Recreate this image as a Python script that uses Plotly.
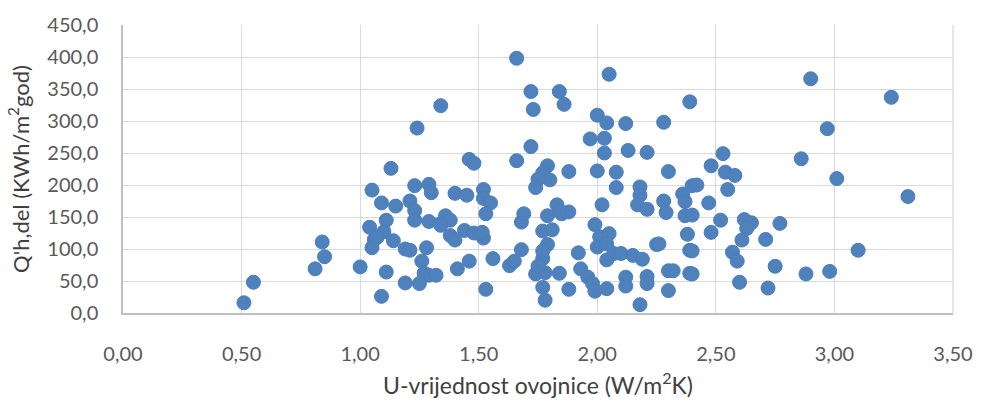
import plotly.graph_objects as go

# U-vrijednost ovojnice (W/m2K)
u_vals = [0.51, 0.55, 0.81, 0.84, 0.85, 1.00, 1.09, 1.13, 1.24, 1.34,
          1.05, 1.09, 1.15, 1.21, 1.23, 1.29, 1.30, 1.23, 1.23, 1.04,
          1.11, 1.10, 1.06, 1.14, 1.05, 1.07, 1.19, 1.21, 1.28, 1.29,
          1.34, 1.36, 1.38, 1.38, 1.40, 1.44, 1.48, 1.46, 1.48, 1.40,
          1.45, 1.26, 1.27, 1.29, 1.19, 1.25, 1.11, 1.41, 1.46, 1.66,
          1.72, 1.73, 1.84, 1.86, 2.05, 2.00, 2.04, 2.12, 2.28, 2.39,
          1.97, 2.03, 2.03, 2.13, 2.21, 1.72, 1.66, 1.79, 1.77, 1.80,
          1.75, 1.74, 1.88, 2.00, 2.08, 2.08, 2.30, 2.18, 2.18, 2.17,
          2.21, 2.28, 2.29, 2.36, 2.37, 2.37, 2.40, 2.02, 1.52, 1.52,
          1.55, 1.53, 1.34, 1.68, 1.69, 1.79, 1.83, 1.85, 1.88, 1.99,
          1.52, 1.515, 1.77, 1.81, 1.79, 1.68, 2.01, 2.05, 2.00, 2.04,
          2.25, 2.26, 2.38, 2.39, 1.32, 1.56, 1.53, 1.63, 1.65, 1.77,
          1.77, 1.74, 1.78, 1.84, 1.77, 1.78, 1.88, 1.92, 1.93, 1.96,
          1.98, 1.99, 2.04, 2.04, 2.07, 2.10, 2.15, 2.19, 2.12, 2.12,
          2.21, 2.21, 2.18, 2.30, 2.32, 2.30, 2.39, 1.75, 2.90, 3.24,
          2.97, 2.86, 2.53, 2.48, 2.54, 2.58, 3.01, 2.42, 2.55, 3.31,
          2.47, 2.40, 2.52, 2.62, 2.65, 2.63, 2.77, 2.48, 2.61, 2.71,
          2.40, 2.57, 2.59, 2.75, 3.10, 2.40, 2.60, 2.72, 2.88, 2.98,
          1.84, 1.07]

# Q'h,del (kWh/m2god)
q_vals = [16, 48, 69, 111, 88, 72, 26, 226, 289, 324,
          192, 172, 167, 175, 199, 201, 188, 160, 145, 134,
          145, 127, 115, 113, 102, 118, 100, 98, 102, 143,
          140, 152, 145, 121, 114, 129, 125, 240, 234, 187,
          184, 81, 62, 59, 47, 46, 64, 69, 81, 398,
          346, 318, 346, 326, 373, 309, 297, 296, 298, 330,
          272, 273, 250, 254, 251, 260, 238, 230, 219, 208,
          209, 196, 221, 222, 220, 196, 221, 197, 184, 169,
          162, 175, 157, 186, 174, 152, 199, 169, 193, 179,
          172, 155, 137, 142, 155, 152, 169, 155, 158, 138,
          117, 126, 128, 130, 107, 99, 119, 124, 103, 108,
          107, 108, 123, 98, 59, 85, 37, 74, 81, 85,
          97, 61, 63, 62, 40, 20, 37, 94, 69, 56,
          46, 34, 38, 83, 93, 93, 90, 84, 56, 42,
          57, 46, 13, 66, 66, 35, 62, 73, 366, 337,
          288, 241, 249, 230, 220, 215, 210, 200, 193, 182,
          172, 153, 145, 146, 141, 132, 140, 126, 114, 115,
          97, 95, 81, 73, 98, 61, 48, 39, 61, 65,
          160, 118]

fig = go.Figure(go.Scatter(
    x=u_vals, y=q_vals, mode='markers',
    marker=dict(size=14, color='#4F81BD', line=dict(width=1, color='#4A7EBB')),
    hoverinfo='x+y'))

font_name = 'Lato, Liberation Sans, sans-serif'
grid = '#D9D9D9'

fig.update_layout(
    width=985, height=407,
    margin=dict(l=123, r=22, t=19, b=84),
    paper_bgcolor='white', plot_bgcolor='white',
    separators=', ',
    font=dict(family=font_name, size=16, color='#595959'),
    showlegend=False,
)
fig.update_xaxes(
    range=[0, 3.5], dtick=0.5, tickformat='.2f',
    showgrid=True, gridcolor=grid, gridwidth=1.3,
    showline=True, linecolor='#BFBFBF', linewidth=1.5,
    zeroline=False, ticks='outside', ticklen=22, tickcolor='rgba(0,0,0,0)',
    tickfont=dict(size=20), ticklabeloverflow='allow',
    title=dict(text='U-vrijednost ovojnice (W/m<sup>2</sup>K)',
               font=dict(size=23, color='#404040'), standoff=14),
)
fig.update_yaxes(
    range=[0, 450], dtick=50, tickformat='.1f',
    showgrid=True, gridcolor=grid, gridwidth=1.3,
    showline=True, linecolor='#BFBFBF', linewidth=1.5,
    zeroline=False, ticks='outside', ticklen=19, tickcolor='rgba(0,0,0,0)',
    tickfont=dict(size=20), ticklabeloverflow='allow',
    title=dict(text="Q'h,del (KWh/m<sup>2</sup>god)",
               font=dict(size=22, color='#404040'), standoff=12),
)
# right edge of the plot area
fig.add_shape(type='line', xref='paper', yref='paper', x0=1, x1=1, y0=0, y1=1,
              line=dict(color=grid, width=1.3), layer='below')

# drop the default page margin so the figure fills the window exactly
fig.write_html("out.html", config={'displayModeBar': False},
               post_script="document.body.style.margin='0';")
